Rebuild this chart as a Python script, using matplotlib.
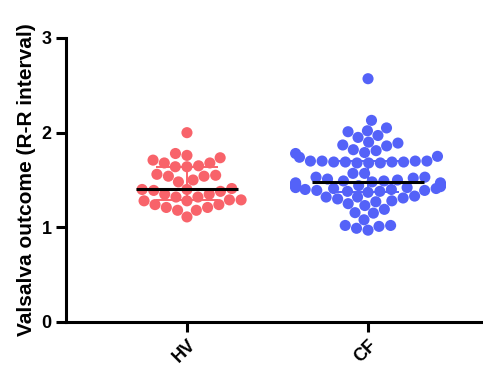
import numpy as np
import pandas as pd
import matplotlib
matplotlib.use("Agg")
import matplotlib.pyplot as plt
import seaborn as sns

categories = ["HV", "CF"]
colors = {"HV": "#F8636A", "CF": "#5462F8"}

hv_values = [2.00, 1.78, 1.735, 1.76, 1.64, 1.68, 1.68, 1.71, 1.64, 1.65,
             1.56, 1.54, 1.50, 1.54, 1.55, 1.48, 1.40, 1.39, 1.41, 1.38,
             1.40, 1.35, 1.32, 1.32, 1.35, 1.29, 1.28, 1.24, 1.21, 1.18,
             1.11, 1.18, 1.21, 1.24, 1.28, 1.29]

cf_values = [2.57, 2.13, 2.05, 2.02, 2.01, 1.97, 1.95, 1.90, 1.89, 1.87,
             1.86, 1.82, 1.81, 1.79, 1.78, 1.75, 1.74,
             1.70, 1.70, 1.69, 1.69, 1.68, 1.68, 1.69, 1.69, 1.70, 1.70, 1.68,
             1.57, 1.57, 1.53, 1.53,
             1.52, 1.51, 1.50, 1.49, 1.48, 1.47, 1.46, 1.45, 1.44, 1.43,
             1.42, 1.41, 1.40, 1.39, 1.38, 1.37, 1.38, 1.39, 1.40, 1.41,
             1.42, 1.43, 1.44, 1.45, 1.47, 1.49,
             1.33, 1.31, 1.28, 1.25, 1.19, 1.155, 1.23, 1.27, 1.30, 1.32, 1.32,
             1.15, 1.02, 1.01, 0.97, 0.99, 1.02, 1.08]

yticks = [0, 1, 2, 3]
ylabel = "Valsalva outcome (R-R interval)"

df = pd.DataFrame({
    "group": ["HV"] * len(hv_values) + ["CF"] * len(cf_values),
    "value": hv_values + cf_values,
})

plt.rcParams["font.family"] = ["Liberation Sans", "DejaVu Sans"]
plt.rcParams["font.weight"] = "bold"

fig = plt.figure(figsize=(4.83, 3.69), dpi=100)
ax = fig.add_axes([66 / 483, 47 / 369, 1 - 66 / 483, (322 - 38) / 369])

sns.swarmplot(data=df, x="group", y="value", hue="group", order=categories,
              palette=colors, size=8.0, linewidth=0, legend=False, ax=ax,
              zorder=2)

groups = {"HV": hv_values, "CF": cf_values}
for i, cat in enumerate(categories):
    vals = np.array(groups[cat])
    med = np.median(vals)
    q1, q3 = np.percentile(vals, [25, 75])
    ax.errorbar([i], [med], yerr=[[med - q1], [q3 - med]], color=colors[cat],
                capsize=22, elinewidth=1.4, capthick=1.4, fmt="none", zorder=3)
    half = 0.31 if cat == "CF" else 0.28
    ax.hlines(med, i - half, i + half, color="black", linewidth=2.2, zorder=4)

ax.set_xlim(-0.668, 1.635)
ax.set_ylim(0, 3)
ax.set_yticks(yticks)
ax.set_yticklabels([str(t) for t in yticks], fontsize=13, fontweight="bold")
ax.set_xticks(range(len(categories)))
ax.set_xticklabels(categories, rotation=45, ha="right", rotation_mode="anchor",
                   fontsize=13, fontweight="bold")
ax.set_xlabel("")
ax.set_ylabel(ylabel, fontsize=15, fontweight="bold", labelpad=4)

for s in ["top", "right"]:
    ax.spines[s].set_visible(False)
for s in ["left", "bottom"]:
    ax.spines[s].set_linewidth(2.2)
ax.tick_params(axis="both", width=2.2, length=7.5, direction="out", pad=3)
ax.grid(False)

fig.savefig("out.png", dpi=100)
